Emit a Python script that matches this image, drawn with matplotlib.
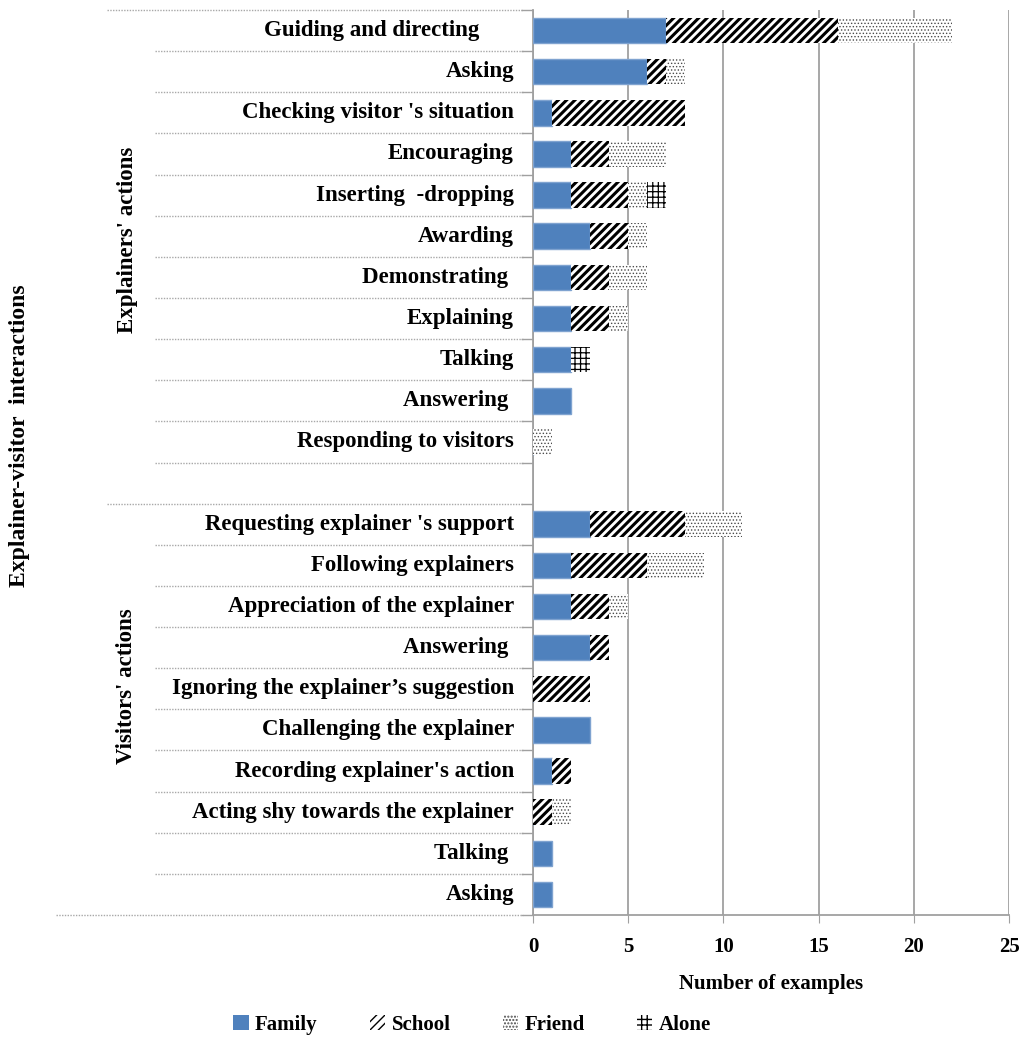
import matplotlib
matplotlib.use("Agg")
import matplotlib.pyplot as plt
from matplotlib.patches import Patch
import numpy as np

plt.rcParams['font.family'] = ['Liberation Serif', 'DejaVu Serif']
plt.rcParams['font.weight'] = 'bold'

# Explainers' actions (top group)
explainer_cats = ["Guiding and directing      ", "Asking", "Checking visitor 's situation",
                  "Encouraging", "Inserting  -dropping", "Awarding", "Demonstrating ",
                  "Explaining", "Talking", "Answering ", "Responding to visitors"]
explainer_family = [7, 6, 1, 2, 2, 3, 2, 2, 2, 2, 0]
explainer_school = [9, 1, 7, 2, 3, 2, 2, 2, 0, 0, 0]
explainer_friend = [6, 1, 0, 3, 1, 1, 2, 1, 0, 0, 1]
explainer_alone = [0, 0, 0, 0, 1, 0, 0, 0, 1, 0, 0]

# Visitors' actions (bottom group)
visitor_cats = ["Requesting explainer 's support", "Following explainers",
                "Appreciation of the explainer", "Answering ",
                "Ignoring the explainer\u2019s suggestion", "Challenging the explainer",
                "Recording explainer's action", "Acting shy towards the explainer",
                "Talking ", "Asking"]
visitor_family = [3, 2, 2, 3, 0, 3, 1, 0, 1, 1]
visitor_school = [5, 4, 2, 1, 3, 0, 1, 1, 0, 0]
visitor_friend = [3, 3, 1, 0, 0, 0, 0, 1, 0, 0]
visitor_alone = [0, 0, 0, 0, 0, 0, 0, 0, 0, 0]

group_names = ["Explainers' actions", "Visitors' actions"]
outer_name = "Explainer-visitor  interactions"
series_names = ["Family", "School", "Friend", "Alone"]
xticks = [0, 5, 10, 15, 20, 25]

# Row positions: explainers 0..10, one empty row, visitors 12..21
n_e, n_v = len(explainer_cats), len(visitor_cats)
pos_e = np.arange(n_e)
pos_v = np.arange(n_v) + n_e + 1
n_rows = n_e + 1 + n_v

W, H = 1027, 1041
fig = plt.figure(figsize=(W / 100, H / 100), dpi=100)
ax_left, ax_right, ax_top, ax_bot = 533, 1009, 10, 915
ax = fig.add_axes([ax_left / W, 1 - ax_bot / H, (ax_right - ax_left) / W, (ax_bot - ax_top) / H])

styles = [
    dict(facecolor="#4F81BD", edgecolor="#7FA3D0", linewidth=1.0),
    dict(facecolor="white", edgecolor="black", hatch="////", linewidth=0),
    dict(facecolor="white", edgecolor="#4a4a4a", hatch=".....", linewidth=0),
    dict(facecolor="white", edgecolor="black", hatch="+++", linewidth=0),
]
hatch_lw = [1.0, 2.2, 0.6, 0.9]

bar_h = 0.62
for pos, series in [(pos_e, [explainer_family, explainer_school, explainer_friend, explainer_alone]),
                    (pos_v, [visitor_family, visitor_school, visitor_friend, visitor_alone])]:
    left = np.zeros(len(pos))
    for vals, st, hlw in zip(series, styles, hatch_lw):
        vals = np.array(vals, dtype=float)
        with plt.rc_context({'hatch.linewidth': hlw}):
            ax.barh(pos, vals, left=left, height=bar_h, zorder=3, **st)
        left += vals

ax.set_xlim(0, 25)
ax.set_ylim(n_rows - 0.5, -0.5)
ax.set_xticks(xticks)
ax.set_xticklabels([str(t) for t in xticks], fontsize=15, fontweight='bold')
ax.tick_params(axis='x', length=6, color='#a0a0a0', pad=10)
ax.set_xlabel("Number of examples", fontsize=15, fontweight='bold', labelpad=12)
ax.xaxis.grid(True, color='#a0a0a0', linewidth=1.3, zorder=0)

boundaries = np.arange(n_rows + 1) - 0.5
ax.set_yticks(boundaries)
ax.set_yticklabels([])
ax.tick_params(axis='y', length=9, color='#a0a0a0', width=1.0)

for s in ['top', 'right']:
    ax.spines[s].set_visible(False)
for s in ['left', 'bottom']:
    ax.spines[s].set_color('#a0a0a0')
    ax.spines[s].set_linewidth(1.3)

fs = 16.5

def px_to_axes(x):
    return (x - ax_left) / (ax_right - ax_left)

def px_to_row(y):
    return (y - ax_top) / (ax_bot - ax_top) * n_rows - 0.5

# Category labels
lab_x = px_to_axes(514)
for cats, pos in [(explainer_cats, pos_e), (visitor_cats, pos_v)]:
    for c, p in zip(cats, pos):
        ax.text(lab_x, p, c, transform=ax.get_yaxis_transform(), ha='right', va='center',
                fontsize=fs, fontweight='bold')

# Category separators of the multi-level axis
group_bounds = [-0.5, n_e + 0.5, n_rows - 0.5]
for b in boundaries:
    start = 107 if b in group_bounds else 155
    if b == n_rows - 0.5:
        start = 56
    ax.plot([px_to_axes(start), px_to_axes(ax_left - 10)], [b, b],
            transform=ax.get_yaxis_transform(), color='#a8a8a8', linewidth=1.0,
            linestyle=(0, (1, 1)), clip_on=False, zorder=1)

# Group labels
grp_x = px_to_axes(127)
ax.text(grp_x, px_to_row(240), group_names[0],
        transform=ax.get_yaxis_transform(), rotation=90, ha='center', va='center',
        fontsize=fs, fontweight='bold')
ax.text(grp_x, px_to_row(686), group_names[1],
        transform=ax.get_yaxis_transform(), rotation=90, ha='center', va='center',
        fontsize=fs, fontweight='bold')
ax.text(px_to_axes(20), px_to_row(436), outer_name,
        transform=ax.get_yaxis_transform(), rotation=90, ha='center', va='center',
        fontsize=fs + 0.5, fontweight='bold')

# Legend
handles = []
for st, hlw in zip(styles, hatch_lw):
    with plt.rc_context({'hatch.linewidth': hlw}):
        handles.append(Patch(**{k: v for k, v in st.items() if k != 'linewidth'}, linewidth=0))
fig.legend(handles, series_names, loc='center', bbox_to_anchor=(472 / W, 1 - 1025 / H),
           ncol=4, frameon=False, handlelength=0.75, handleheight=0.75,
           handletextpad=0.3, columnspacing=2.5, prop={'weight': 'bold', 'size': 15})

fig.savefig("out.png", dpi=100, facecolor='white')
